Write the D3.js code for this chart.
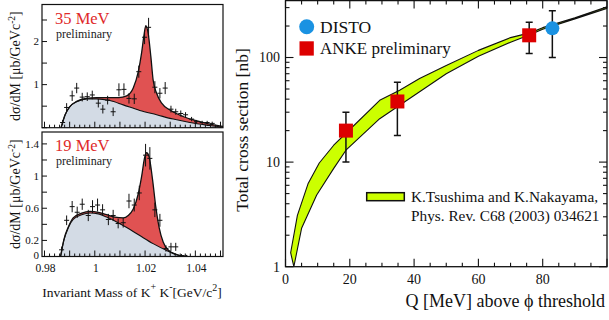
<!DOCTYPE html>
<html><head><meta charset="utf-8">
<script src="https://cdn.jsdelivr.net/npm/d3@7"></script>
<style>
body{margin:0;background:#fff}
svg{display:block}
text{font-family:"Liberation Serif","Times New Roman",serif;fill:#111}
</style>
</head><body>
<svg id="c" width="609" height="320"></svg>
<script>
// ---------- K+K- invariant mass spectrum, Q = 35 MeV ----------
const mass35 = [0.9872,0.9888,0.9910,0.9928,0.9950,0.9970,0.9990,1.0014,1.0032,1.0051,1.0073,1.0096,1.0116,1.0136,1.0157,1.0175,1.0198,1.0214,1.0239,1.0259,1.0280,1.0303,1.0322,1.0342,1.0361,1.0385,1.0405,1.0427,1.0447,1.0467];
const dsdm35 = [0.12,0.47,0.74,0.92,0.71,0.72,0.76,0.57,0.43,0.64,0.37,0.88,0.89,0.68,0.67,1.30,2.10,2.33,0.94,0.80,0.92,0.43,0.37,0.33,0.30,0.20,0.14,0.12,0.12,0.10];
const err35  = [0.06,0.10,0.12,0.12,0.10,0.10,0.10,0.10,0.10,0.10,0.10,0.15,0.14,0.12,0.12,0.14,0.16,0.22,0.14,0.12,0.14,0.08,0.07,0.07,0.06,0.05,0.04,0.04,0.04,0.04];
const fitMass35  = [0.9866,0.9882,0.9901,0.9928,0.9968,1.0007,1.0060,1.0095,1.0127,1.0153,1.0173,1.0186,1.0195,1.0203,1.0212,1.0223,1.0232,1.0246,1.0266,1.0299,1.0351,1.0418,1.0497,1.0510];
const fitTotal35 = [0,0.30,0.49,0.61,0.68,0.70,0.70,0.70,0.74,0.92,1.30,1.73,2.12,2.37,2.20,1.65,1.11,0.80,0.57,0.41,0.26,0.14,0.04,0.03];
const bgMass35 = [0.9866,0.9882,0.9901,0.9928,0.9968,1.0007,1.0060,1.0113,1.0179,1.0246,1.0312,1.0378,1.0444,1.0497,1.0510];
const bg35     = [0,0.30,0.49,0.60,0.67,0.67,0.63,0.53,0.40,0.30,0.20,0.12,0.06,0.02,0.015];

// ---------- K+K- invariant mass spectrum, Q = 19 MeV ----------
const mass19 = [0.9868,0.9888,0.9910,0.9930,0.9950,0.9974,0.9991,1.0011,1.0031,1.0054,1.0073,1.0093,1.0113,1.0136,1.0157,1.0177,1.0202,1.0219,1.0239,1.0259,1.0283,1.0303,1.0322,1.0345,1.0365];
const dsdm19 = [0.083,0.45,0.62,0.55,0.65,0.51,0.62,0.64,0.58,0.46,0.51,0.41,0.42,0.69,0.64,0.79,1.26,1.22,0.58,0.45,0.10,0.12,0.12,0.01,0.0];
const err19  = [0.04,0.06,0.07,0.07,0.07,0.07,0.08,0.08,0.07,0.07,0.07,0.06,0.06,0.09,0.08,0.09,0.14,0.14,0.09,0.08,0.04,0.05,0.05,0.02,0.02];
const fitMass19  = [0.9864,0.9877,0.9895,0.9914,0.9948,0.9981,1.0014,1.0047,1.0080,1.0113,1.0133,1.0153,1.0173,1.0186,1.0199,1.0206,1.0216,1.0230,1.0243,1.0256,1.0272,1.0292,1.0338,1.0371];
const fitTotal19 = [0,0.21,0.37,0.48,0.54,0.56,0.55,0.52,0.49,0.48,0.51,0.59,0.78,0.99,1.24,1.29,1.24,0.95,0.61,0.36,0.18,0.08,0.012,0];
const bgMass19 = [0.9864,0.9877,0.9895,0.9914,0.9948,0.9981,1.0014,1.0047,1.0087,1.0127,1.0179,1.0232,1.0286,1.0338,1.0371];
const bg19     = [0,0.20,0.36,0.46,0.52,0.54,0.53,0.49,0.43,0.36,0.26,0.16,0.075,0.012,0];

const massTickLabels = [0.98,1.00,1.02,1.04];
const ticks35 = [1,2];
const ticks19 = [0,0.2,0.6,1,1.4];

// ---------- total cross section pp -> pp phi ----------
const qDisto   = [83];
const sigDisto = [190];
const errDisto = [90];
const qAnke    = [18.8,34.8,75.8];
const sigAnke  = [20,38,163];
const errAnke  = [10,20,54];
// theory band (Tsushima & Nakayama): upper and lower edges
const bandUpperQ   = [1.6,3.7,7.0,10.5,15,20,29.3,35.5,41.7,50,60,70,76,80,90,100];
const bandUpperSig = [1.36,3.1,6.2,9.8,14.5,20.5,39,48.7,63,84,117,155,172,193,240,305];
const bandLowerQ   = [2.6,5.0,9.7,15,18.8,29.3,35.5,50,60,70,76,80,90,100];
const bandLowerSig = [1.0,2.33,4.84,8.7,13,26,35,70,103,140,165,186,234,295];
const qTicks = [0,20,40,60,80];
const sigTicks = [1,10,100];

const svg = d3.select("#c");
const RED = "#e05252", GREY = "#d3dbe5";

// ---------- mass spectrum panels ----------
function massPanel(cfg){
  const x = d3.scaleLinear([0.979,1.051],[42,223]);
  const y = d3.scaleLinear([0,cfg.ymax],[cfg.bottom,cfg.top]);
  const g = svg.append("g");
  const clipId = "clip"+cfg.id;
  g.append("clipPath").attr("id",clipId).append("rect")
    .attr("x",42).attr("y",cfg.top).attr("width",181).attr("height",cfg.bottom-cfg.top);
  const pg = g.append("g").attr("clip-path",`url(#${clipId})`);
  const tot = cfg.fitM.map((m,i)=>[m,cfg.fitY[i]]);
  const bg = cfg.bgM.map((m,i)=>[m,cfg.bgY[i]]);
  const area = d3.area().x(d=>x(d[0])).y0(y(0)).y1(d=>y(d[1])).curve(d3.curveMonotoneX);
  const line = d3.line().x(d=>x(d[0])).y(d=>y(d[1])).curve(d3.curveMonotoneX);
  pg.append("path").attr("d",area(tot)).attr("fill",RED);
  pg.append("path").attr("d",area(bg)).attr("fill",GREY);
  pg.append("path").attr("d",line(bg)).attr("fill","none").attr("stroke","#111").attr("stroke-width",1.1);
  pg.append("path").attr("d",line(tot)).attr("fill","none").attr("stroke","#111").attr("stroke-width",1.3);
  // data crosses
  const pts = pg.append("g").attr("stroke","#111").attr("stroke-width",1);
  cfg.m.forEach((m,i)=>{
    const v=cfg.v[i], e=cfg.e[i];
    pts.append("line").attr("x1",x(m-0.001)).attr("x2",x(m+0.001)).attr("y1",y(v)).attr("y2",y(v));
    pts.append("line").attr("x1",x(m)).attr("x2",x(m)).attr("y1",y(v-e)).attr("y2",y(v+e));
  });
  // frame
  g.append("rect").attr("x",42).attr("y",cfg.top).attr("width",181).attr("height",cfg.bottom-cfg.top)
    .attr("fill","none").attr("stroke","#111").attr("stroke-width",1.2);
  // x ticks
  const tk = g.append("g").attr("stroke","#111").attr("stroke-width",1);
  d3.range(0.980,1.0505,0.002).forEach(t=>{
    const major = Math.abs(Math.round(t*100)-t*100)<1e-6;
    tk.append("line").attr("x1",x(t)).attr("x2",x(t)).attr("y1",cfg.bottom).attr("y2",cfg.bottom-(major?6:3));
  });
  // y ticks
  d3.range(0,cfg.ymax,cfg.ystep).forEach(t=>{
    tk.append("line").attr("x1",42).attr("x2",47).attr("y1",y(t)).attr("y2",y(t));
  });
  g.selectAll("text.yl").data(cfg.ylabels).join("text")
    .attr("x",39).attr("y",d=>y(d)).attr("dy",d=>d===0?"0.2em":"0.33em").attr("text-anchor","end")
    .attr("font-size",11).text(d=>d);
  // y axis title
  const t = g.append("text").attr("transform",`translate(20,${(cfg.top+cfg.bottom)/2}) rotate(-90)`)
    .attr("text-anchor","middle").attr("font-size",14);
  t.append("tspan").text("dσ/dM [μb/GeVc");
  t.append("tspan").attr("font-size",9.5).attr("dy",-5).text("-2");
  t.append("tspan").attr("dy",5).text("]");
  // labels
  g.append("text").attr("x",55).attr("y",cfg.top+19).attr("font-size",16.5).style("fill","#e02a2a").text(cfg.title);
  g.append("text").attr("x",56).attr("y",cfg.top+33).attr("font-size",12).style("fill","#222").text("preliminary");
  return x;
}

massPanel({id:"a",top:4.5,bottom:127.7,ymax:2.86,ystep:0.5,ylabels:ticks35,
  m:mass35,v:dsdm35,e:err35,fitM:fitMass35,fitY:fitTotal35,bgM:bgMass35,bgY:bg35,title:"35 MeV"});
const xm = massPanel({id:"b",top:132,bottom:256.5,ymax:1.548,ystep:0.2,ylabels:ticks19,
  m:mass19,v:dsdm19,e:err19,fitM:fitMass19,fitY:fitTotal19,bgM:bgMass19,bgY:bg19,title:"19 MeV"});

svg.append("g").selectAll("text").data(massTickLabels).join("text")
  .attr("x",d=>xm(d)+1).attr("y",271.5).attr("text-anchor","middle").attr("font-size",11.5)
  .text(d=>d===1?"1":d.toFixed(2));

const xl = svg.append("text").attr("x",132).attr("y",296.5).attr("text-anchor","middle").attr("font-size",13.5);
xl.append("tspan").text("Invariant Mass of K");
xl.append("tspan").attr("font-size",10).attr("dy",-7).text("+");
xl.append("tspan").attr("dy",7).text(" K");
xl.append("tspan").attr("font-size",10).attr("dy",-7).text("-");
xl.append("tspan").attr("dy",7).text("[GeV/c");
xl.append("tspan").attr("font-size",10).attr("dy",-6).text("2");
xl.append("tspan").attr("dy",6).text("]");

// ---------- cross section panel ----------
const xR = d3.scaleLinear([0,100],[285.5,607]);
const yR = d3.scaleLog([1,350],[266.7,0.6]);
const gR = svg.append("g");
gR.append("clipPath").attr("id","clipR").append("rect")
  .attr("x",285.5).attr("y",0.6).attr("width",321.5).attr("height",266.1);
const pR = gR.append("g").attr("clip-path","url(#clipR)");

const upper = bandUpperQ.map((q,i)=>[q,bandUpperSig[i]]);
const lower = bandLowerQ.map((q,i)=>[q,bandLowerSig[i]]);
const band = upper.concat(lower.slice().reverse());
pR.append("path")
  .attr("d",d3.line().x(d=>xR(d[0])).y(d=>yR(d[1]))(band)+"Z")
  .attr("fill","#ccff00").attr("stroke","#111").attr("stroke-width",1.1).attr("stroke-linejoin","round");

function errBar(g,q,s,e){
  const eb=g.append("g").attr("stroke","#111").attr("stroke-width",1.5);
  eb.append("line").attr("x1",xR(q)).attr("x2",xR(q)).attr("y1",yR(s-e)).attr("y2",yR(s+e));
  [s-e,s+e].forEach(v=>eb.append("line").attr("x1",xR(q)-3.5).attr("x2",xR(q)+3.5).attr("y1",yR(v)).attr("y2",yR(v)));
}
qAnke.forEach((q,i)=>{
  errBar(pR,q,sigAnke[i],errAnke[i]);
  pR.append("rect").attr("x",xR(q)-7).attr("y",yR(sigAnke[i])-7).attr("width",14).attr("height",14).attr("fill","#dd0000");
});
qDisto.forEach((q,i)=>{
  errBar(pR,q,sigDisto[i],errDisto[i]);
  pR.append("circle").attr("cx",xR(q)).attr("cy",yR(sigDisto[i])).attr("r",7).attr("fill","#1a92e2");
});

// frame and ticks
gR.append("rect").attr("x",285.5).attr("y",0.6).attr("width",321.5).attr("height",266.1)
  .attr("fill","none").attr("stroke","#111").attr("stroke-width",1.3);
const tR = gR.append("g").attr("stroke","#111").attr("stroke-width",1.1);
d3.range(0,101,5).forEach(t=>{
  const L = t%20===0?8:4;
  tR.append("line").attr("x1",xR(t)).attr("x2",xR(t)).attr("y1",266.7).attr("y2",266.7-L);
  tR.append("line").attr("x1",xR(t)).attr("x2",xR(t)).attr("y1",0.6).attr("y2",0.6+L);
});
[1,10,100].forEach(dec=>{
  d3.range(1,10).forEach(k=>{
    const v=dec*k; if(v>350) return;
    const L = k===1?8:4;
    tR.append("line").attr("x1",285.5).attr("x2",285.5+L).attr("y1",yR(v)).attr("y2",yR(v));
    tR.append("line").attr("x1",607).attr("x2",607-L).attr("y1",yR(v)).attr("y2",yR(v));
  });
});
gR.selectAll("text.xt").data(qTicks).join("text")
  .attr("x",d=>xR(d)).attr("y",284).attr("text-anchor","middle").attr("font-size",14).text(d=>d);
gR.selectAll("text.yt").data(sigTicks).join("text")
  .attr("x",280).attr("y",d=>yR(d)).attr("dy","0.35em").attr("text-anchor","end").attr("font-size",14).text(d=>d);

gR.append("text").attr("transform","translate(248,130) rotate(-90)").attr("text-anchor","middle")
  .attr("font-size",17.5).text("Total cross section [nb]");
gR.append("text").attr("x",605).attr("y",306.5).attr("text-anchor","end")
  .attr("font-size",18).text("Q [MeV] above ϕ threshold");

// legend
gR.append("circle").attr("cx",306.7).attr("cy",26.7).attr("r",7.5).attr("fill","#1a92e2");
gR.append("text").attr("x",320).attr("y",32.5).attr("font-size",17.5).text("DISTO");
gR.append("rect").attr("x",299.5).attr("y",41.3).attr("width",14.3).attr("height",14.3).attr("fill","#dd0000");
gR.append("text").attr("x",320).attr("y",53.5).attr("font-size",17).text("ANKE preliminary");
gR.append("rect").attr("x",366.7).attr("y",192.7).attr("width",37.6).attr("height",8)
  .attr("fill","#ccff00").attr("stroke","#111").attr("stroke-width",1.5);
gR.append("text").attr("x",411).attr("y",201.7).attr("font-size",15.3).text("K.Tsushima and K.Nakayama,");
gR.append("text").attr("x",411).attr("y",220.7).attr("font-size",15.3).text("Phys. Rev. C68 (2003) 034621");
</script>
</body></html>
